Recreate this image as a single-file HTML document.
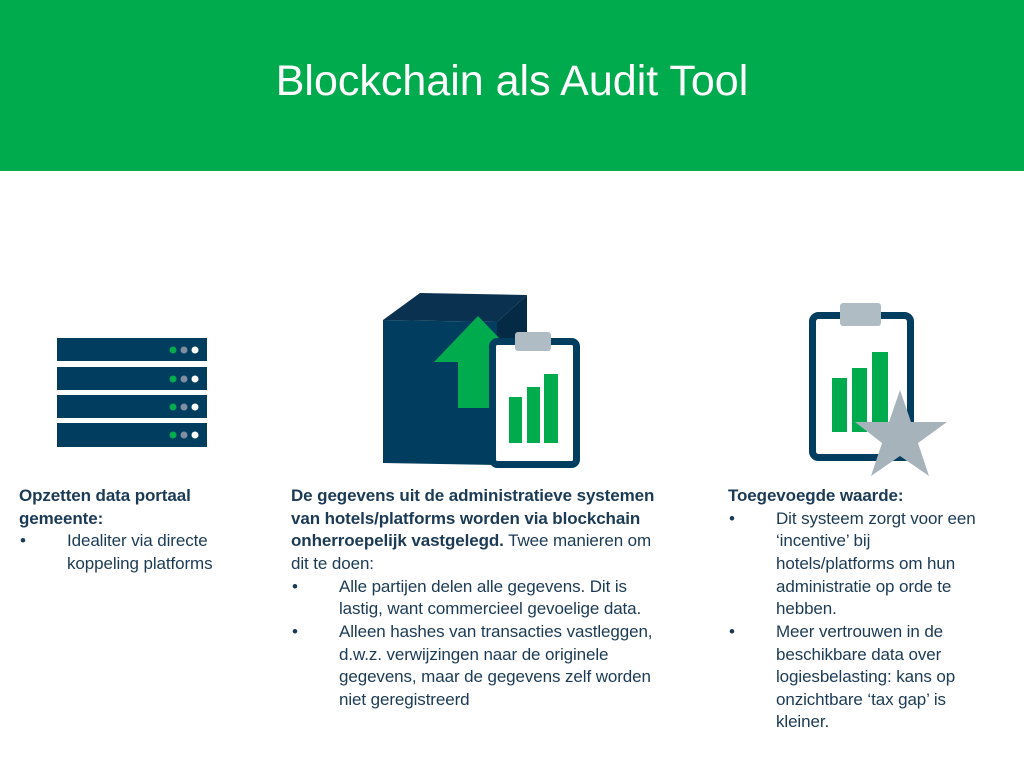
<!DOCTYPE html>
<html><head><meta charset="utf-8"><style>
body{margin:0;width:1024px;height:768px;background:#fff;position:relative;overflow:hidden;font-family:"Liberation Sans",sans-serif;color:#1b3a55}
.hd{position:absolute;left:0;top:0;width:1024px;height:171px;background:#00ab4e}
.hd div{position:absolute;top:57px;width:100%;text-align:center;color:#fff;font-size:43px}
.l{position:absolute;white-space:nowrap;font-size:17px;line-height:20px;letter-spacing:-0.1px}
b{font-weight:bold}
</style></head><body>
<div class="hd"><div>Blockchain als Audit Tool</div></div>
<svg width="1024" height="768" style="position:absolute;left:0;top:0">
<g fill="#003d5f">
<rect x="57" y="338" width="150" height="23"/><rect x="57" y="367" width="150" height="23"/>
<rect x="57" y="395" width="150" height="23"/><rect x="57" y="423" width="150" height="24"/>
</g>
<g>
<circle cx="173" cy="350" r="3.5" fill="#00ab4e"/><circle cx="184" cy="350" r="3.5" fill="#7f8ea0"/><circle cx="195" cy="350" r="3.5" fill="#fff"/>
<circle cx="173" cy="379" r="3.5" fill="#00ab4e"/><circle cx="184" cy="379" r="3.5" fill="#7f8ea0"/><circle cx="195" cy="379" r="3.5" fill="#fff"/>
<circle cx="173" cy="407" r="3.5" fill="#00ab4e"/><circle cx="184" cy="407" r="3.5" fill="#7f8ea0"/><circle cx="195" cy="407" r="3.5" fill="#fff"/>
<circle cx="173" cy="435" r="3.5" fill="#00ab4e"/><circle cx="184" cy="435" r="3.5" fill="#7f8ea0"/><circle cx="195" cy="435" r="3.5" fill="#fff"/>
</g>
<polygon points="383,320 420,293 527,295 497,322" fill="#0a3150"/>
<polygon points="497,322 527,295 527,425 497,445" fill="#042a45"/>
<polygon points="383,320 497,322 497,465 383,463" fill="#003d5f"/>
<polygon points="478,316 522,362 500,362 500,408 458,408 458,362 434,362" fill="#00ab4e"/>
<rect x="492.5" y="341.5" width="84" height="123" rx="5" fill="#fff" stroke="#003d5f" stroke-width="7"/>
<rect x="515" y="332" width="36" height="19" rx="3" fill="#b0bcc3"/>
<g fill="#00ab4e"><rect x="509" y="397" width="13" height="46"/><rect x="527" y="387" width="13" height="56"/><rect x="544" y="374" width="14" height="69"/></g>
<rect x="812.5" y="315.5" width="98" height="142" rx="6" fill="#fff" stroke="#003d5f" stroke-width="7"/>
<rect x="840" y="303" width="41" height="23" rx="3" fill="#b0bcc3"/>
<g fill="#00ab4e"><rect x="832" y="378" width="15" height="54"/><rect x="852" y="368" width="15" height="64"/><rect x="872" y="352" width="16" height="80"/></g>
<polygon points="900,390 911,422 947,422 918,443 929,476 900,456 871,476 882,443 855,422 889,422" fill="#a7b3ba"/>
</svg>
<div class="l" style="left:19px;top:486px"><b>Opzetten data portaal</b></div>
<div class="l" style="left:19px;top:509px"><b>gemeente:</b></div>
<div class="l" style="left:20px;top:531px">•</div><div class="l" style="left:67px;top:531px">Idealiter via directe</div>
<div class="l" style="left:67px;top:554px">koppeling platforms</div>

<div class="l" style="left:291px;top:486px"><b>De gegevens uit de administratieve systemen</b></div>
<div class="l" style="left:291px;top:509px"><b>van hotels/platforms worden via blockchain</b></div>
<div class="l" style="left:291px;top:531px"><b>onherroepelijk vastgelegd.</b> Twee manieren om</div>
<div class="l" style="left:291px;top:554px">dit te doen:</div>
<div class="l" style="left:292px;top:577px">•</div><div class="l" style="left:339px;top:577px">Alle partijen delen alle gegevens. Dit is</div>
<div class="l" style="left:339px;top:599px">lastig, want commercieel gevoelige data.</div>
<div class="l" style="left:292px;top:622px">•</div><div class="l" style="left:339px;top:622px">Alleen hashes van transacties vastleggen,</div>
<div class="l" style="left:339px;top:645px">d.w.z. verwijzingen naar de originele</div>
<div class="l" style="left:339px;top:667px">gegevens, maar de gegevens zelf worden</div>
<div class="l" style="left:339px;top:690px">niet geregistreerd</div>

<div class="l" style="left:728px;top:486px"><b>Toegevoegde waarde:</b></div>
<div class="l" style="left:729px;top:509px">•</div><div class="l" style="left:776px;top:509px">Dit systeem zorgt voor een</div>
<div class="l" style="left:776px;top:531px">‘incentive’ bij</div>
<div class="l" style="left:776px;top:554px">hotels/platforms om hun</div>
<div class="l" style="left:776px;top:577px">administratie op orde te</div>
<div class="l" style="left:776px;top:599px">hebben.</div>
<div class="l" style="left:729px;top:622px">•</div><div class="l" style="left:776px;top:622px">Meer vertrouwen in de</div>
<div class="l" style="left:776px;top:645px">beschikbare data over</div>
<div class="l" style="left:776px;top:667px">logiesbelasting: kans op</div>
<div class="l" style="left:776px;top:690px">onzichtbare ‘tax gap’ is</div>
<div class="l" style="left:776px;top:712px">kleiner.</div>
</body></html>
